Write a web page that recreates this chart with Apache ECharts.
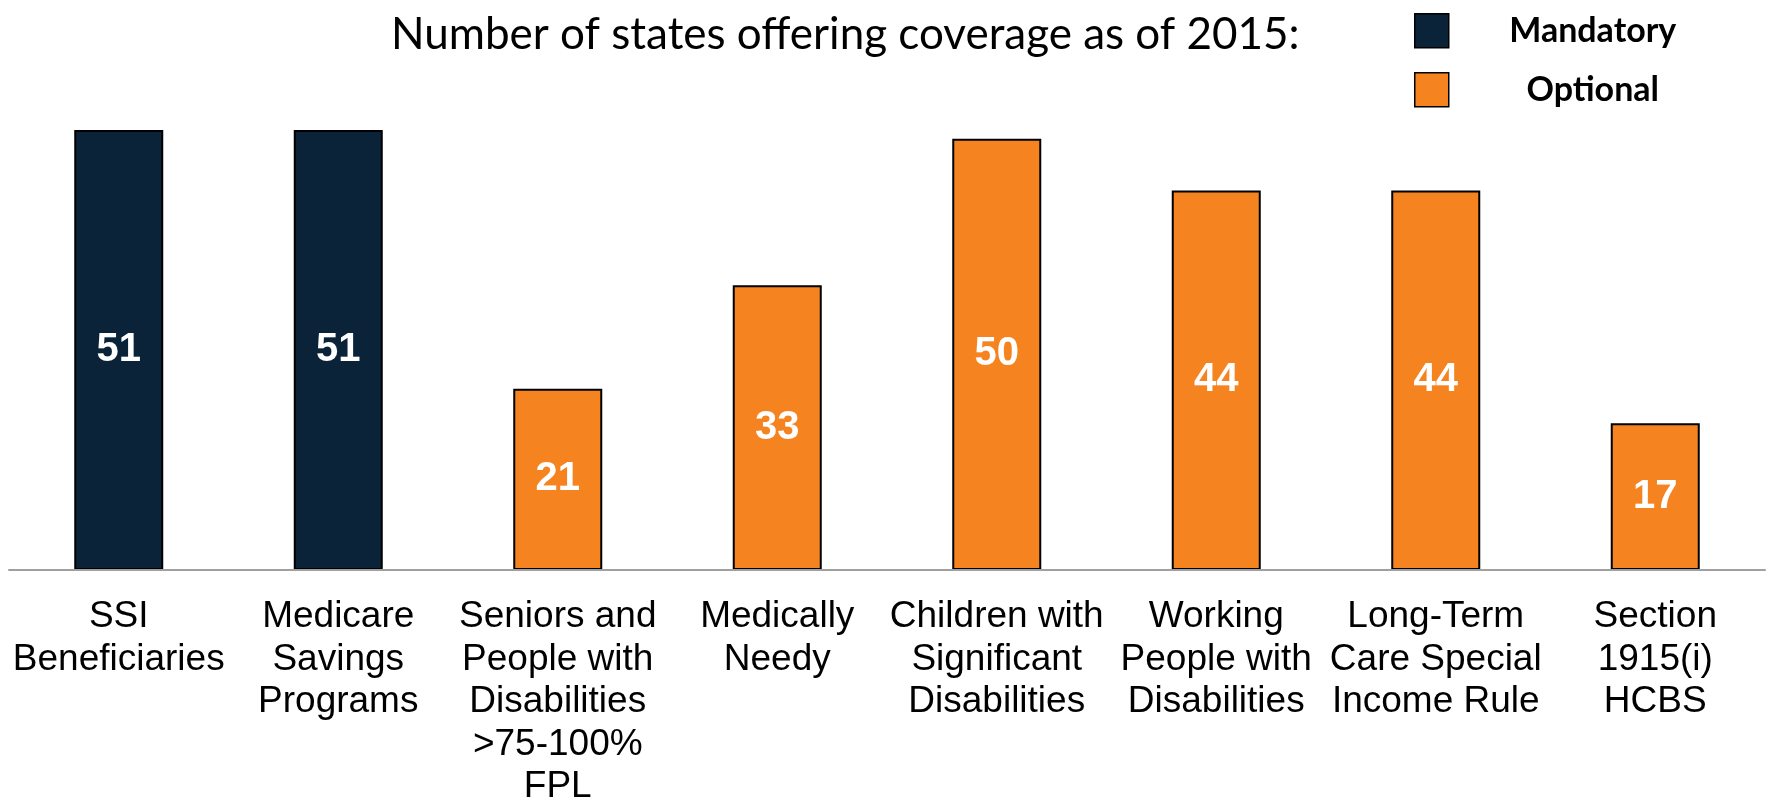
<!DOCTYPE html>
<html>
<head>
<meta charset="utf-8">
<script src="https://cdn.jsdelivr.net/npm/echarts@6/dist/echarts.min.js"></script>
<style>html,body{margin:0;padding:0;background:#fff}#c{width:1769px;height:800px}</style>
</head>
<body>
<div id="c"></div>
<script>
const categories = [
  "SSI\nBeneficiaries",
  "Medicare\nSavings\nPrograms",
  "Seniors and\nPeople with\nDisabilities\n>75-100%\nFPL",
  "Medically\nNeedy",
  "Children with\nSignificant\nDisabilities",
  "Working\nPeople with\nDisabilities",
  "Long-Term\nCare Special\nIncome Rule",
  "Section\n1915(i)\nHCBS"
];
const mandatory = [51, 51, null, null, null, null, null, null];
const optional = [null, null, 21, 33, 50, 44, 44, 17];
const titleText = "Number of states offering coverage as of 2015:";

const chart = echarts.init(document.getElementById('c'));
const labelCfg = {
  show: true, position: 'inside', color: '#fff', fontSize: 40, fontWeight: 'bold',
  fontFamily: 'Liberation Sans, Arial, sans-serif',
  formatter: p => (p.value == null ? '' : p.value)
};
chart.setOption({
  animation: false,
  backgroundColor: '#fff',
  title: {
    text: titleText, left: 391, top: 13, padding: 0,
    textStyle: { fontFamily: 'Lato', fontWeight: 'normal', fontSize: 44, color: '#000' }
  },
  legend: {
    orient: 'vertical', left: 1414, top: 13, padding: 0,
    itemWidth: 34, itemHeight: 34, itemGap: 23.5,
    icon: 'rect',
    itemStyle: { borderColor: '#000', borderWidth: 1.5 },
    formatter: n => '{a|' + n + '}',
    textStyle: {
      rich: { a: { width: 278, align: 'center', fontFamily: 'Lato', fontWeight: 'bold', fontSize: 34, color: '#000' } }
    },
    data: ['Mandatory', 'Optional']
  },
  grid: { left: 9, right: 4, top: 130, bottom: 230, containLabel: false, outerBoundsMode: 'none' },
  xAxis: {
    type: 'category', data: categories, z: 5,
    axisLine: { lineStyle: { color: '#a0a0a0', width: 2 } },
    axisTick: { show: false },
    axisLabel: {
      interval: 0, margin: 26, color: '#000', fontSize: 37, lineHeight: 42.5,
      fontFamily: 'Liberation Sans, Arial, sans-serif'
    }
  },
  yAxis: { type: 'value', min: 0, max: 51, show: false, splitLine: { show: false } },
  series: [
    { name: 'Mandatory', type: 'bar', stack: 's', data: mandatory, barWidth: 89,
      itemStyle: { color: '#0a2338', borderColor: '#000', borderWidth: 2 }, label: labelCfg },
    { name: 'Optional', type: 'bar', stack: 's', data: optional, barWidth: 89,
      itemStyle: { color: '#f58420', borderColor: '#000', borderWidth: 2 }, label: labelCfg }
  ]
});
</script>
</body>
</html>
